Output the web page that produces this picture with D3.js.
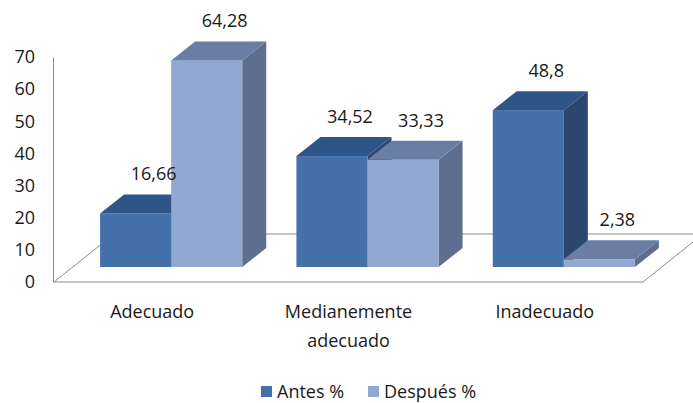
<!DOCTYPE html>
<html>
<head>
<meta charset="utf-8">
<script src="https://cdn.jsdelivr.net/npm/d3@7"></script>
<style>
  body { margin: 0; background: #fff; }
  text { font-family: "Open Sans", "Noto Sans", sans-serif; fill: #1a1a1a; }
</style>
</head>
<body>
<svg id="chart"></svg>
<script>
const categories = [["Adecuado"], ["Medianemente", "adecuado"], ["Inadecuado"]]
const series = ["Antes %", "Después %"]
const antes = [16.66, 34.52, 48.8]
const despues = [64.28, 33.33, 2.38]
const labels = [["16,66", "64,28"], ["34,52", "33,33"], ["48,8", "2,38"]]
const yTicks = [0, 10, 20, 30, 40, 50, 60, 70]

const width = 693, height = 403
const svg = d3.select("#chart").attr("width", width).attr("height", height)

// front plane of the floor
const front = {left: 54, right: 643, bottom: 282, top: 57}
const floorDepth = {x: 60, y: -48}
const barShift = {x: 19, y: -15}   // bar front plane relative to floor front
const barDepth = {x: 24, y: -19}

const colors = {
    "Antes %": {front: "#4571aa", top: "#2f5487", side: "#2b466f"},
    "Después %": {front: "#93a8d1", top: "#6a7ea3", side: "#5d6e8e"}
}

const keys = categories.map(c => c.join(" "))
const x0 = d3.scaleBand().domain(keys).range([front.left, front.right]).paddingInner(0.276).paddingOuter(0.138)
const x1 = d3.scaleBand().domain(series).range([0, x0.bandwidth()])
const y = d3.scaleLinear().domain([0, 70]).range([front.bottom, front.top])

// floor
const fl = [
    [front.left, front.bottom],
    [front.right, front.bottom],
    [front.right + floorDepth.x, front.bottom + floorDepth.y],
    [front.left + floorDepth.x, front.bottom + floorDepth.y]
]
svg.append("path")
    .attr("d", d3.line()(fl) + "Z")
    .attr("fill", "#fff")
    .attr("stroke", "#8c8c8c")
    .attr("stroke-width", 1)

// vertical axis
const yAxis = d3.axisLeft(y).tickValues(yTicks).tickSize(0).tickPadding(18)
const yg = svg.append("g").attr("transform", `translate(${front.left - 1},0)`).call(yAxis)
yg.select(".domain").attr("stroke", "#8c8c8c")
yg.selectAll("text").attr("font-size", 18).attr("fill", "#1a1a1a")
    .style("font-family", '"Open Sans", "Noto Sans", sans-serif')

// bars
const rows = []
keys.forEach((k, i) => {
    rows.push({cat: k, s: series[0], v: antes[i], label: labels[i][0]})
    rows.push({cat: k, s: series[1], v: despues[i], label: labels[i][1]})
})

const bars = svg.append("g")
rows.forEach(d => {
    const xl = x0(d.cat) + x1(d.s) + barShift.x
    const xr = xl + x1.bandwidth()
    const yb = y(0) + barShift.y
    const yt = y(d.v) + barShift.y
    const c = colors[d.s]
    const dx = barDepth.x, dy = barDepth.y
    // side face
    bars.append("path")
        .attr("d", d3.line()([[xr, yt], [xr + dx, yt + dy], [xr + dx, yb + dy], [xr, yb]]) + "Z")
        .attr("fill", c.side)
    // front face
    bars.append("rect")
        .attr("x", xl).attr("y", yt)
        .attr("width", xr - xl).attr("height", yb - yt)
        .attr("fill", c.front)
    // top face
    bars.append("path")
        .attr("d", d3.line()([[xl, yt], [xl + dx, yt + dy], [xr + dx, yt + dy], [xr, yt]]) + "Z")
        .attr("fill", c.top)
})

// value labels
svg.append("g").selectAll("text")
    .data(rows)
    .join("text")
    .attr("x", d => x0(d.cat) + x1(d.s) + barShift.x + x1.bandwidth() / 2 + 18)
    .attr("y", d => y(d.v) + barShift.y + barDepth.y - 14)
    .attr("text-anchor", "middle")
    .attr("font-size", 18)
    .text(d => d.label)

// category labels
const cg = svg.append("g")
categories.forEach((lines, i) => {
    const t = cg.append("text")
        .attr("x", x0(keys[i]) + x0.bandwidth() / 2)
        .attr("y", 318)
        .attr("text-anchor", "middle")
        .attr("font-size", 18)
    lines.forEach((l, j) => {
        t.append("tspan")
            .attr("x", x0(keys[i]) + x0.bandwidth() / 2)
            .attr("dy", j === 0 ? 0 : 29)
            .text(l)
    })
})

// legend
const legendX = [261, 368]
const lg = svg.append("g")
series.forEach((s, i) => {
    lg.append("rect")
        .attr("x", legendX[i]).attr("y", 386)
        .attr("width", 11).attr("height", 11)
        .attr("fill", colors[s].front)
    lg.append("text")
        .attr("x", legendX[i] + 16).attr("y", 398)
        .attr("font-size", 18)
        .text(s)
})
</script>
</body>
</html>
